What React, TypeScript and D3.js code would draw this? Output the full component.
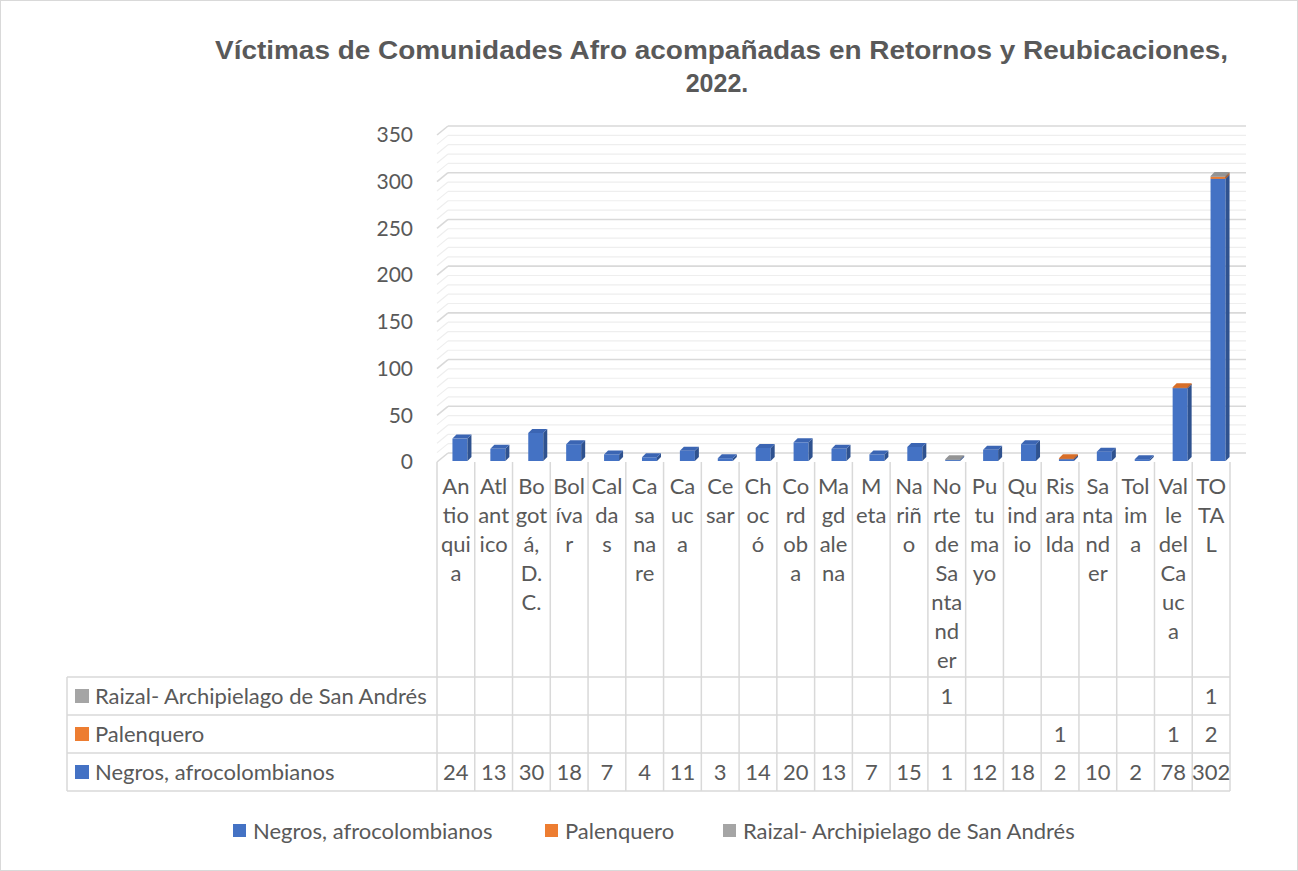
import React from 'react';
import * as d3 from 'd3';

// datos
const categories = ['Antioquia', 'Atlantico', 'Bogotá, D.C.', 'Bolívar', 'Caldas', 'Casanare', 'Cauca', 'Cesar', 'Chocó', 'Cordoba', 'Magdalena', 'Meta', 'Nariño', 'Norte de Santander', 'Putumayo', 'Quindio', 'Risaralda', 'Santander', 'Tolima', 'Valle del Cauca', 'TOTAL'];
// como Excel corta las etiquetas en la tabla
const categoryLines = [
  ['An', 'tio', 'qui', 'a'], ['Atl', 'ant', 'ico'], ['Bo', 'got', 'á,', 'D.', 'C.'], ['Bol', 'íva', 'r'],
  ['Cal', 'da', 's'], ['Ca', 'sa', 'na', 're'], ['Ca', 'uc', 'a'], ['Ce', 'sar'], ['Ch', 'oc', 'ó'],
  ['Co', 'rd', 'ob', 'a'], ['Ma', 'gd', 'ale', 'na'], ['M', 'eta'], ['Na', 'riñ', 'o'],
  ['No', 'rte', 'de', 'Sa', 'nta', 'nd', 'er'], ['Pu', 'tu', 'ma', 'yo'], ['Qu', 'ind', 'io'],
  ['Ris', 'ara', 'lda'], ['Sa', 'nta', 'nd', 'er'], ['Tol', 'im', 'a'], ['Val', 'le', 'del', 'Ca', 'uc', 'a'], ['TO', 'TA', 'L'],
];
const negros = [24, 13, 30, 18, 7, 4, 11, 3, 14, 20, 13, 7, 15, 1, 12, 18, 2, 10, 2, 78, 302];
const palenquero = [0, 0, 0, 0, 0, 0, 0, 0, 0, 0, 0, 0, 0, 0, 0, 0, 1, 0, 0, 1, 2];
const raizal = [0, 0, 0, 0, 0, 0, 0, 0, 0, 0, 0, 0, 0, 1, 0, 0, 0, 0, 0, 0, 1];
const seriesNames = ['Negros, afrocolombianos', 'Palenquero', 'Raizal- Archipielago de San Andrés'];
const yTicks = [0, 50, 100, 150, 200, 250, 300, 350];

const W = 1298;
const H = 871;
const txt = '#595959';
const grid = '#d9d9d9';
const font = 'Lato, Calibri, sans-serif';
const fs = 22;
const faces = [
  { front: '#4472c4', side: '#2f528f', top: '#3b65b3' },
  { front: '#ed7d31', side: '#ae5a21', top: '#d86e27' },
  { front: '#a5a5a5', side: '#7b7b7b', top: '#949494' },
];

export default function App() {
  const tableX0 = 437;
  const tableX1 = 1230;
  const labelX0 = 67;
  const headTop = 462;
  const rowTops = [677, 715, 753, 791];
  const depthX = 11;
  const depthY = 9;

  const y = d3.scaleLinear().domain([0, 350]).range([462, 135]);
  const col = d3.scaleBand<string>().domain(categories).range([tableX0, tableX1]);
  const barX = d3.scaleBand<string>().domain(categories).range([443, 1239]);

  const rows = categories.map((c, i) => ({ cat: c, s0: negros[i], s1: palenquero[i], s2: raizal[i] }));
  const stacked = d3.stack<any>().keys(['s0', 's1', 's2'])(rows);

  const minor = d3.range(0, 351, 10);
  const bw = 15;
  const bdx = 4;
  const bdy = 4;

  // filas de la tabla: de arriba hacia abajo Raizal, Palenquero, Negros
  const tableRows = [
    { name: seriesNames[2], vals: raizal, c: faces[2].front },
    { name: seriesNames[1], vals: palenquero, c: faces[1].front },
    { name: seriesNames[0], vals: negros, c: faces[0].front },
  ];

  return (
    <svg width={W} height={H} style={{ position: 'absolute', left: 0, top: 0, background: '#fff' }} fontFamily={font}>
      <rect x={0.5} y={0.5} width={W - 1} height={H - 1} fill="#fff" stroke={grid} />

      <text x={215} y={59} textLength={1013} lengthAdjust="spacingAndGlyphs" fontFamily="'Liberation Sans', Arial, sans-serif" fontWeight="bold" fontSize={25} fill={txt}>
        Víctimas de Comunidades Afro acompañadas en Retornos y Reubicaciones,
      </text>
      <text x={717} y={92} textAnchor="middle" fontFamily="'Liberation Sans', Arial, sans-serif" fontWeight="bold" fontSize={25} fill={txt}>
        2022.
      </text>

      {/* pared del fondo con lineas menores y mayores */}
      {minor.map(v => {
        const major = v % 50 === 0;
        const c = major ? grid : '#eeeeee';
        return (
          <g key={v}>
            <line x1={tableX0 + depthX} x2={1246} y1={y(v) - depthY} y2={y(v) - depthY} stroke={c} strokeWidth={major ? 1.6 : 1.2} />
            <line x1={tableX0} x2={tableX0 + depthX} y1={y(v)} y2={y(v) - depthY} stroke={c} strokeWidth={major ? 1.6 : 1.2} />
          </g>
        );
      })}

      {yTicks.map(t => (
        <text key={t} x={413} y={y(t)} dy="0.35em" textAnchor="end" fontSize={21} fill={txt}>{t}</text>
      ))}

      {/* columnas 3D apiladas */}
      {categories.map((c, i) => {
        const x0 = (barX(c) as number) + barX.bandwidth() / 2 - 9.5;
        const x1 = x0 + bw;
        return (
          <g key={c}>
            {stacked.map((s, k) => {
              const [a, b] = s[i];
              if (b - a <= 0) return null;
              const yb = y(a) - 1;
              const yt = y(b) - 1;
              const f = faces[k];
              return (
                <g key={k}>
                  <rect x={x0} y={yt} width={bw} height={yb - yt} fill={f.front} />
                  <path d={`M${x1},${yt}L${x1 + bdx},${yt - bdy}L${x1 + bdx},${yb - bdy}L${x1},${yb}Z`} fill={f.side} />
                  <path d={`M${x0},${yt}L${x1},${yt}L${x1 + bdx},${yt - bdy}L${x0 + bdx},${yt - bdy}Z`} fill={f.top} />
                </g>
              );
            })}
          </g>
        );
      })}

      {/* tabla de datos */}
      {categories.map((c, i) => (
        <line key={'v' + c} x1={col(c) as number} x2={col(c) as number} y1={headTop} y2={rowTops[3]} stroke={grid} strokeWidth={1.5} />
      ))}
      <line x1={tableX1} x2={tableX1} y1={headTop} y2={rowTops[3]} stroke={grid} strokeWidth={1.5} />
      <line x1={labelX0} x2={labelX0} y1={rowTops[0]} y2={rowTops[3]} stroke={grid} strokeWidth={1.5} />
      {rowTops.map(r => (
        <line key={'h' + r} x1={labelX0} x2={tableX1} y1={r} y2={r} stroke={grid} strokeWidth={1.5} />
      ))}

      {categories.map((c, i) => (
        <text key={'l' + c} x={(col(c) as number) + col.bandwidth() / 2} textAnchor="middle" fontSize={fs} fill={txt}>
          {categoryLines[i].map((ln, j) => (
            <tspan key={j} x={(col(c) as number) + col.bandwidth() / 2} y={494 + j * 29}>{ln}</tspan>
          ))}
        </text>
      ))}

      {tableRows.map((r, ri) => {
        const cy = (rowTops[ri] + rowTops[ri + 1]) / 2;
        return (
          <g key={r.name}>
            <rect x={75} y={cy - 7} width={14} height={14} fill={r.c} />
            <text x={95} y={cy} dy="0.35em" fontSize={fs} fill={txt}>{r.name}</text>
            {categories.map((c, i) => r.vals[i] > 0 ? (
              <text key={c} x={(col(c) as number) + col.bandwidth() / 2} y={cy} dy="0.35em" textAnchor="middle" fontSize={fs} fill={txt}>{r.vals[i]}</text>
            ) : null)}
          </g>
        );
      })}

      {/* leyenda */}
      {[{ x: 233, i: 0 }, { x: 545, i: 1 }, { x: 723, i: 2 }].map(l => (
        <g key={l.i}>
          <rect x={l.x} y={824} width={13} height={13} fill={faces[l.i].front} />
          <text x={l.x + 20} y={831} dy="0.35em" fontSize={fs} fill={txt}>{seriesNames[l.i]}</text>
        </g>
      ))}
    </svg>
  );
}
